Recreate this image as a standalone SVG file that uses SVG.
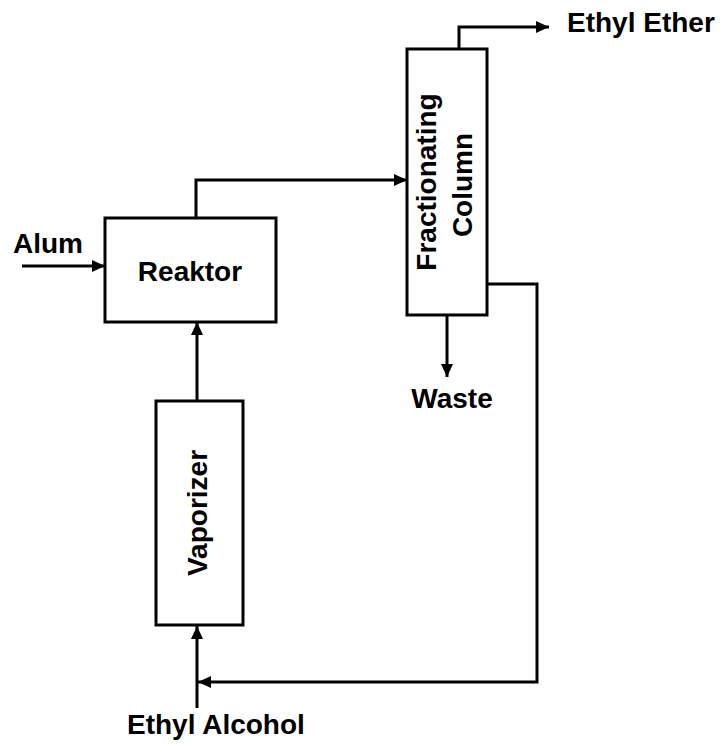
<svg xmlns="http://www.w3.org/2000/svg" width="724" height="745" viewBox="0 0 724 745">
<defs>
<marker id="ah" markerUnits="userSpaceOnUse" markerWidth="14" markerHeight="14" viewBox="0 0 14 14" refX="13" refY="7" orient="auto">
<path d="M0,1 L13,7 L0,13 Z" fill="#000"/>
</marker>
<style>
.box{fill:#fff;stroke:#000;stroke-width:3}
.ln{fill:none;stroke:#000;stroke-width:3;marker-end:url(#ah)}
text{font-family:"Liberation Sans",Arial,sans-serif;font-weight:bold;font-size:28px;fill:#000}
</style>
</defs>
<rect width="724" height="745" fill="#fff"/>
<g id="connectors">
<path class="ln" d="M22,266 H105"/>
<path class="ln" d="M196,218 V180 H407"/>
<path class="ln" d="M459,49 V27 H549"/>
<path class="ln" d="M447,315 V377"/>
<path class="ln" d="M487,284 H537 V682 H198"/>
<path class="ln" d="M197,401 V322"/>
<path class="ln" d="M197,708 V626"/>
</g>
<g id="reaktor">
<rect class="box" x="105" y="218" width="171" height="104"/>
<text x="190" y="281" text-anchor="middle" font-size="29">Reaktor</text>
</g>
<g id="vaporizer">
<rect class="box" x="156" y="401" width="87" height="224"/>
<text transform="translate(207,513) rotate(-90)" text-anchor="middle" font-size="30">Vaporizer</text>
</g>
<g id="column">
<rect class="box" x="407" y="49" width="80" height="266"/>
<text transform="translate(436,182) rotate(-90)" text-anchor="middle" font-size="29">Fractionating</text>
<text transform="translate(472,185) rotate(-90)" text-anchor="middle" font-size="29">Column</text>
</g>
<g id="labels">
<text x="13" y="253">Alum</text>
<text x="567" y="32">Ethyl Ether</text>
<text x="452" y="408" text-anchor="middle" font-size="29">Waste</text>
<text x="127" y="734">Ethyl Alcohol</text>
</g>
</svg>
